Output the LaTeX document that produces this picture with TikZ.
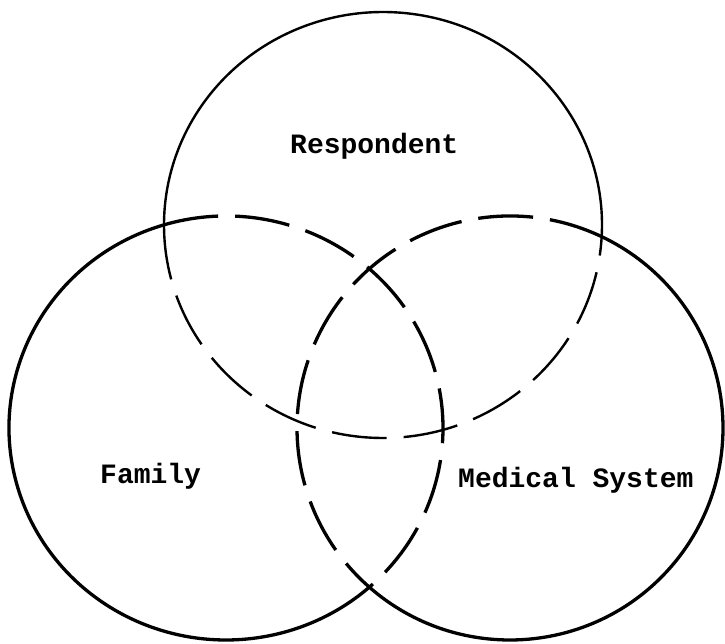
\documentclass[tikz,border=0pt]{standalone}
\usepackage{fontspec}
\setmonofont{Liberation Mono}
\begin{document}
\begin{tikzpicture}[x=1pt,y=1pt,
  heavy/.style={line width=3.3pt},
  light/.style={line width=2.4pt},
  dashline/.style={dash pattern=on 55pt off 17pt},
  lbl/.style={font=\ttfamily\bfseries\fontsize{28}{28}\selectfont, inner sep=0pt, anchor=base west}]
\useasboundingbox (0,0) rectangle (725,643);
\coordinate (cT) at (383,418);
\coordinate (cL) at (226,215);
\coordinate (cR) at (510,215);
% top circle (Respondent)
\draw[light] (cT) ++(-3.2:219 and 213) arc[start angle=-3.2, end angle=180, x radius=219, y radius=213];
\draw[light,dashline] (cT) ++(180:219 and 213) arc[start angle=180, end angle=356.8, x radius=219, y radius=213];
% left circle (Family)
\draw[heavy] (cL) ++(106.6:217 and 212) arc[start angle=106.6, end angle=311.3, x radius=217, y radius=212];
\draw[heavy,dashline] (cL) ++(106.6:217 and 212) arc[start angle=106.6, end angle=-48.7, x radius=217, y radius=212];
% right circle (Medical System)
\draw[heavy] (cR) ++(228.7:213 and 212) arc[start angle=228.7, end angle=424.4, x radius=213, y radius=212];
\draw[heavy,dashline] (cR) ++(64.4:213 and 212) arc[start angle=64.4, end angle=228.7, x radius=213, y radius=212];
% labels
\node[lbl] (resp) at (290,489) {Respondent};
\node[lbl] (fam) at (100,160) {Family};
\node[lbl] (med) at (458,156) {Medical System};
\end{tikzpicture}
\end{document}
